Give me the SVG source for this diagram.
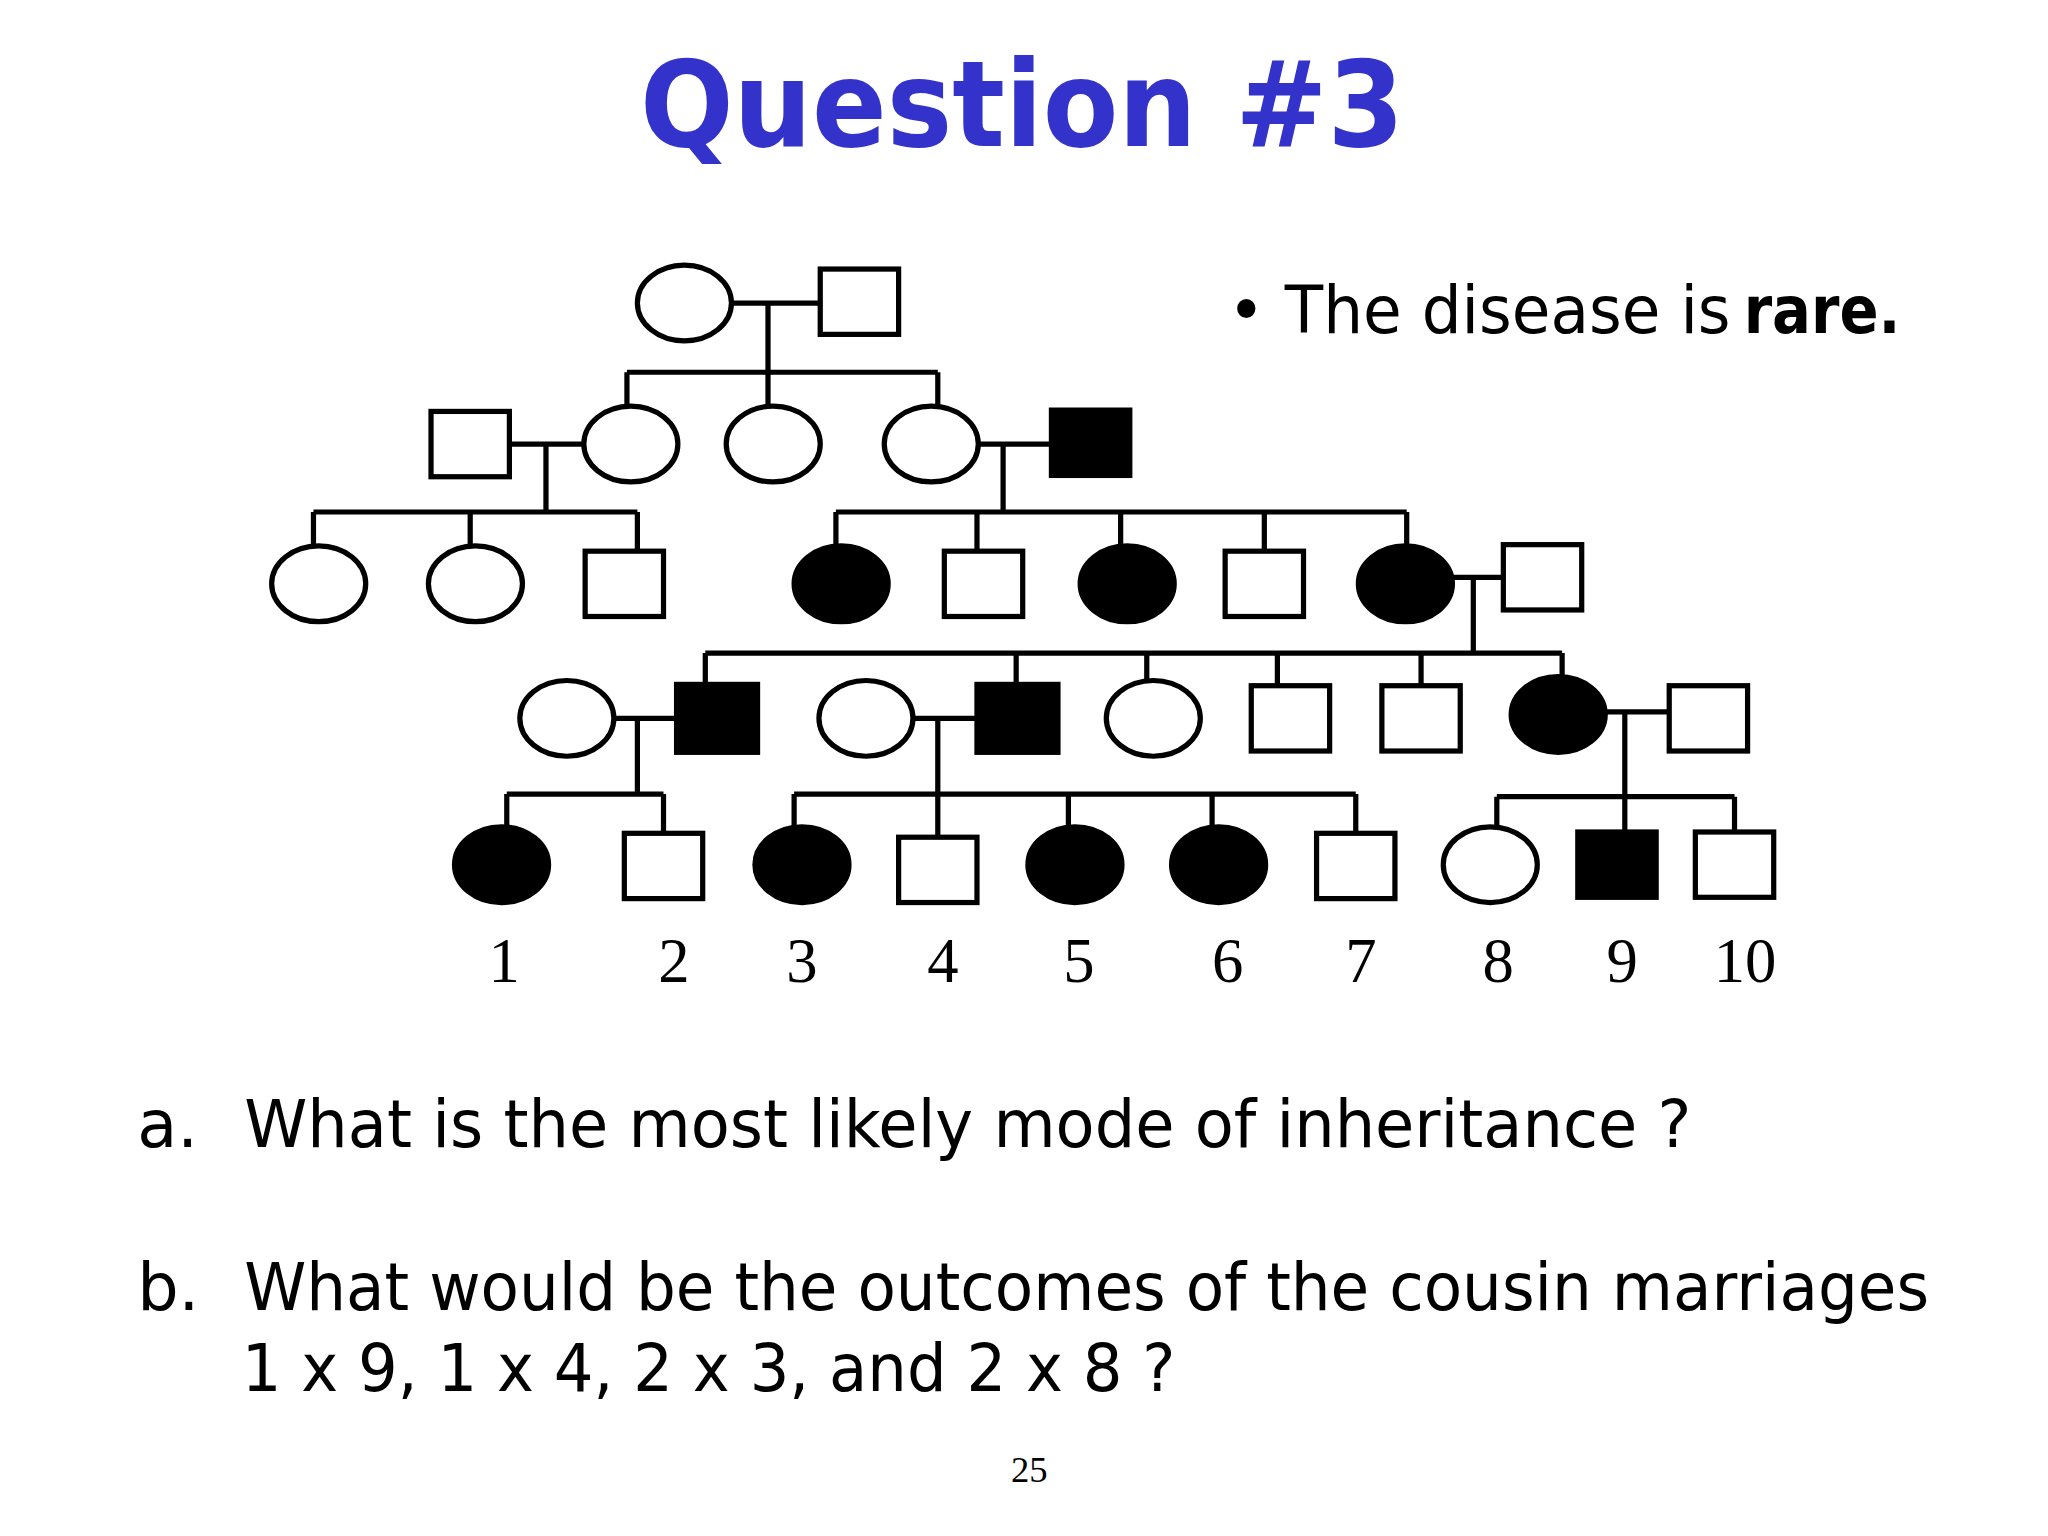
<svg xmlns="http://www.w3.org/2000/svg" width="2048" height="1536" viewBox="0 0 2048 1536">
<style>
.o{fill:#fff;stroke:#000;stroke-width:4}
.f{fill:#000;stroke:#000;stroke-width:4}
.l{fill:none;stroke:#000;stroke-width:4}
.n{font-family:"Liberation Serif",serif;font-size:48px;text-anchor:middle}
.t{font-family:"DejaVu Sans",sans-serif;font-size:50px}
</style>
<rect width="2048" height="1536" fill="#fff"/>
<g transform="scale(1.30612)">
<text x="490" y="112" font-family="DejaVu Sans, sans-serif" font-weight="bold" font-size="92" fill="#3333cc" textLength="585" lengthAdjust="spacingAndGlyphs">Question #3</text>
<text class="t" x="940" y="255" textLength="385" lengthAdjust="spacingAndGlyphs">• The disease is</text>
<text class="t" x="1335" y="255" font-weight="bold" textLength="120" lengthAdjust="spacingAndGlyphs">rare.</text>
<text class="t" x="105" y="878">a.</text>
<text class="t" x="187" y="878" textLength="1108" lengthAdjust="spacingAndGlyphs">What is the most likely mode of inheritance ?</text>
<text class="t" x="105" y="1003">b.</text>
<text class="t" x="187" y="1003" textLength="1290" lengthAdjust="spacingAndGlyphs">What would be the outcomes of the cousin marriages</text>
<text class="t" x="185" y="1065" textLength="715" lengthAdjust="spacingAndGlyphs">1 x 9, 1 x 4, 2 x 3, and 2 x 8 ?</text>
<text x="788" y="1135" font-family="Liberation Serif, serif" font-size="28" text-anchor="middle">25</text>
<g id="connectors">
<path class="l" d="M560 232H628M588 232V285M480 285H718M480 285V310M588 285V310M718 285V310"/>
<path class="l" d="M390 340H447M418 340V392M240 392H488M240 392V417M360 392V417M488 392V422"/>
<path class="l" d="M749 340H805M768 340V392M640 392H1077M640 392V417M748 392V422M858 392V417M968 392V422M1077 392V417"/>
<path class="l" d="M1112 442H1151M1128 442V500M540 500H1196M540 500V524M778 500V524M878 500V520M978 500V525M1088 500V525M1196 500V518"/>
<path class="l" d="M470 550H517M488 550V608M388 608H508M388 608V633M508 608V638"/>
<path class="l" d="M699 550H747M718 550V608M608 608H1038M608 608V633M718 608V641M818 608V633M928 608V633M1038 608V638"/>
<path class="l" d="M1229 545H1278M1244 545V610M1146 610H1328M1146 610V634M1244 610V636M1328 610V636"/>
</g>
<g id="gen1"><ellipse class="o" cx="524" cy="232" rx="36" ry="29"/><rect class="o" x="628" y="206" width="60" height="50"/></g>
<g id="gen2"><rect class="o" x="330" y="315" width="60" height="50"/><ellipse class="o" cx="483" cy="340" rx="36" ry="29"/><ellipse class="o" cx="592" cy="340" rx="36" ry="29"/><ellipse class="o" cx="713" cy="340" rx="36" ry="29"/><rect class="f" x="805" y="314" width="60" height="50"/></g>
<g id="gen3"><ellipse class="o" cx="244" cy="447" rx="36" ry="29"/><ellipse class="o" cx="364" cy="447" rx="36" ry="29"/><rect class="o" x="448" y="422" width="60" height="50"/>
<ellipse class="f" cx="644" cy="447" rx="36" ry="29"/><rect class="o" x="723" y="422" width="60" height="50"/><ellipse class="f" cx="863" cy="447" rx="36" ry="29"/><rect class="o" x="938" y="422" width="60" height="50"/><ellipse class="f" cx="1076" cy="447" rx="36" ry="29"/><rect class="o" x="1151" y="417" width="60" height="50"/></g>
<g id="gen4"><ellipse class="o" cx="434" cy="550" rx="36" ry="29"/><rect class="f" x="518" y="524" width="62" height="52"/><ellipse class="o" cx="663" cy="550" rx="36" ry="29"/><rect class="f" x="748" y="524" width="62" height="52"/><ellipse class="o" cx="883" cy="550" rx="36" ry="29"/><rect class="o" x="958" y="525" width="60" height="50"/><rect class="o" x="1058" y="525" width="60" height="50"/><ellipse class="f" cx="1193" cy="547" rx="36" ry="29"/><rect class="o" x="1278" y="525" width="60" height="50"/></g>
<g id="gen5"><ellipse class="f" cx="384" cy="662" rx="36" ry="29"/><rect class="o" x="478" y="638" width="60" height="50"/><ellipse class="f" cx="614" cy="662" rx="36" ry="29"/><rect class="o" x="688" y="641" width="60" height="50"/><ellipse class="f" cx="823" cy="662" rx="36" ry="29"/><ellipse class="f" cx="933" cy="662" rx="36" ry="29"/><rect class="o" x="1008" y="638" width="60" height="50"/><ellipse class="o" cx="1141" cy="662" rx="36" ry="29"/><rect class="f" x="1208" y="637" width="60" height="50"/><rect class="o" x="1298" y="637" width="60" height="50"/></g>
<g id="numbers"><text class="n" x="386" y="752">1</text><text class="n" x="516" y="752">2</text><text class="n" x="614" y="752">3</text><text class="n" x="722" y="752">4</text><text class="n" x="826" y="752">5</text><text class="n" x="940" y="752">6</text><text class="n" x="1042" y="752">7</text><text class="n" x="1147" y="752">8</text><text class="n" x="1242" y="752">9</text><text class="n" x="1336" y="752">10</text></g>
</g>
</svg>
